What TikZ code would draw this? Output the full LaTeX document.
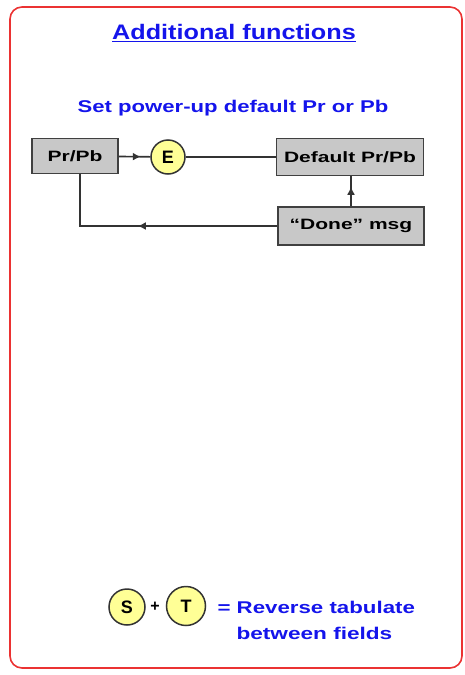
\documentclass[tikz,border=0pt]{standalone}
\usepackage{fontspec}
\setmainfont{Liberation Sans}
\usetikzlibrary{decorations.markings,arrows.meta}
\definecolor{tblue}{RGB}{20,20,235}
\definecolor{bred}{RGB}{235,50,50}
\definecolor{boxgray}{RGB}{200,200,200}
\definecolor{yel}{RGB}{255,255,150}
\tikzset{
  box/.style={draw=black!75, fill=boxgray, line width=1.6pt, inner sep=0pt, font=\bfseries\fontsize{15}{17}\selectfont},
  key/.style={circle, draw=black!80, fill=yel, line width=1.5pt, inner sep=0pt, font=\bfseries\fontsize{18}{20}\selectfont},
  conn/.style={draw=black!80, line width=1.6pt},
  midarrow/.style={postaction={decorate}, decoration={markings, mark=at position #1 with {\arrow{Latex[length=8pt,width=8pt]}}}},
  bluetext/.style={text=tblue, font=\bfseries\fontsize{17}{21}\selectfont}
}
\begin{document}
\begin{tikzpicture}[x=1pt,y=-1pt]
\useasboundingbox (0,0) rectangle (465,675);
\draw[bred, line width=1.6pt, rounded corners=12pt] (10,7) rectangle (462,668);
\node[text=tblue, font=\bfseries\fontsize{21}{24}\selectfont] (title) at (234,33) {\scalebox{1.2}[1]{\underline{Additional functions}}};
\node[bluetext] (sub) at (233,108) {\scalebox{1.3}[1]{Set power-up default Pr or Pb}};
\node[box, minimum width=86pt, minimum height=35pt] (prpb) at (75,156) {\scalebox{1.4}[1]{Pr/Pb}};
\node[key, minimum size=34pt] (e) at (168,157) {E};
\node[box, minimum width=147pt, minimum height=37pt] (def) at (350,157) {\scalebox{1.4}[1]{Default Pr/Pb}};
\node[box, minimum width=146pt, minimum height=38pt] (done) at (351,226) {\scalebox{1.4}[1]{``Done'' msg}};
\draw[conn, midarrow=0.7] (prpb) -- (e);
\draw[conn] (e) -- (def);
\draw[conn, midarrow=0.65] (done.north) -- (done.north |- def.south);
\draw[conn, midarrow=0.56] (done.west) -| (prpb.south -| 80,0);
\node[key, minimum size=36pt] (s) at (127,607) {S};
\node[font=\bfseries\fontsize{16}{18}\selectfont] (plus) at (155,607) {+};
\node[key, minimum size=39pt] (t) at (186,606) {T};
\node[bluetext, anchor=west] (rev) at (214,607) {\scalebox{1.31}[1]{= Reverse tabulate}};
\node[bluetext, anchor=west] (btw) at (233,633) {\scalebox{1.33}[1]{between fields}};
\end{tikzpicture}
\end{document}
